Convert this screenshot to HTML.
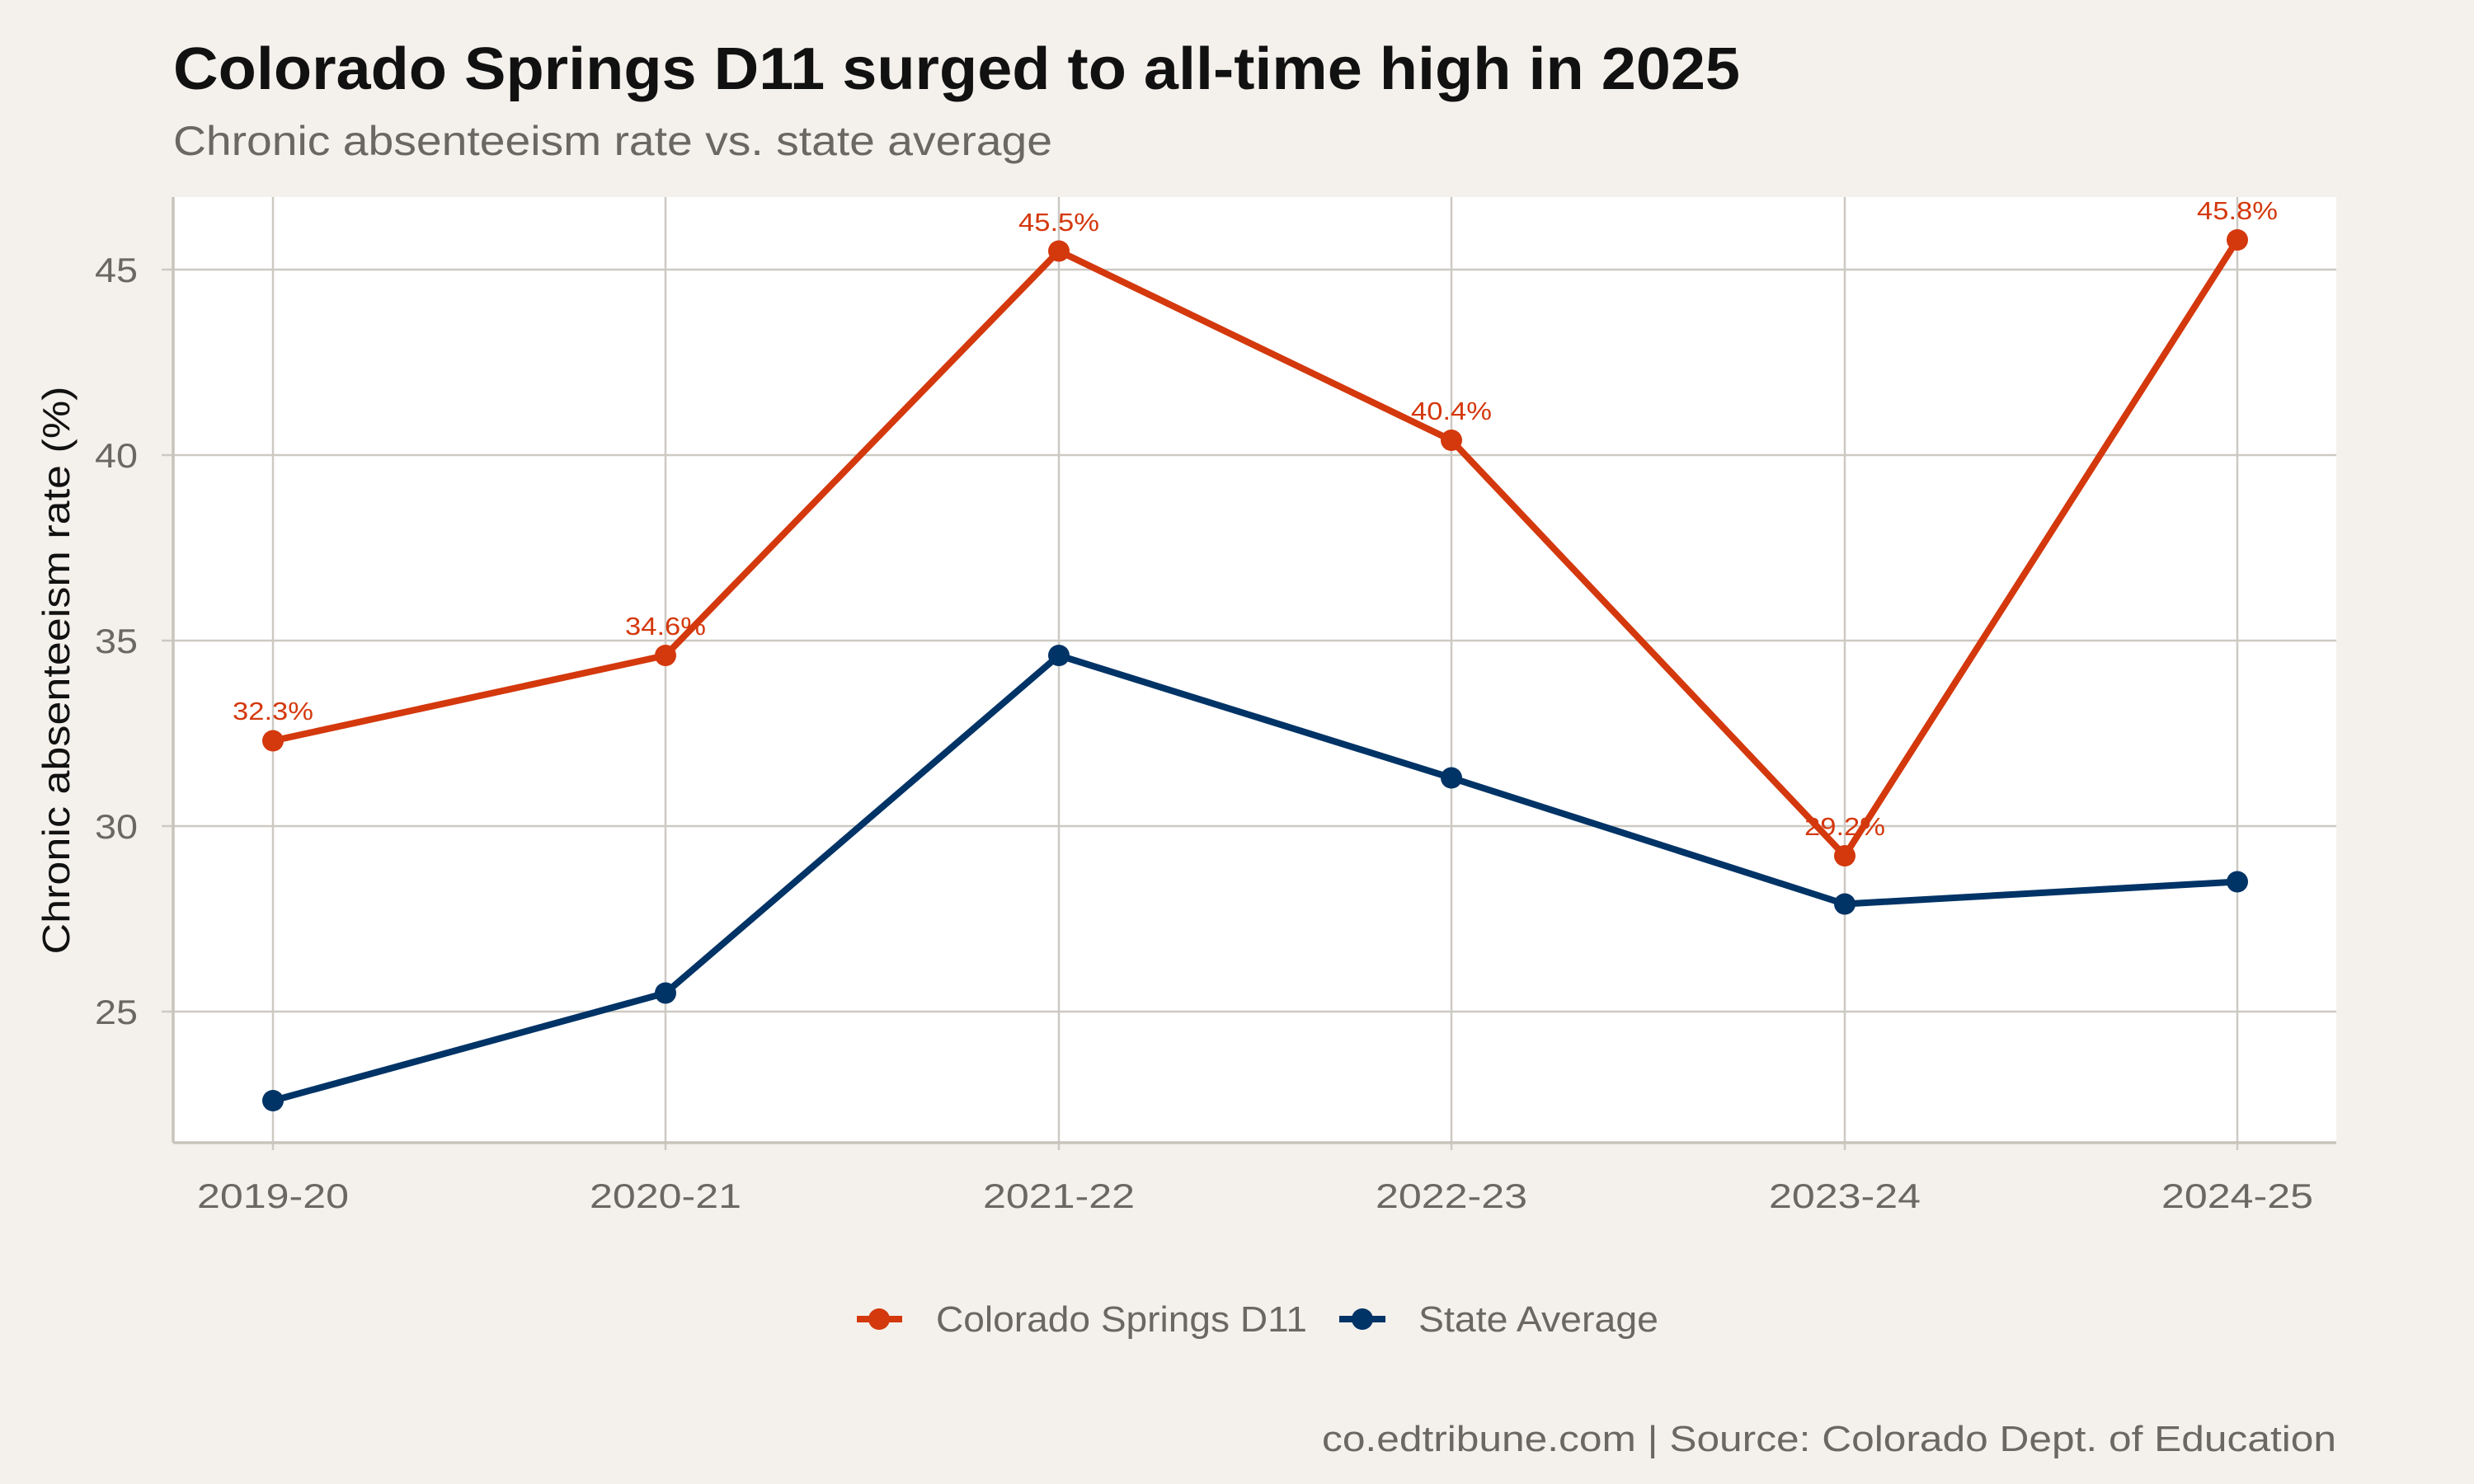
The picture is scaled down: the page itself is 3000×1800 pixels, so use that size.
<!DOCTYPE html>
<html><head><meta charset="utf-8"><style>
html,body{margin:0;padding:0;background:#f4f1ec;}
svg{display:block;font-family:"Liberation Sans",Arial,sans-serif;}
</style></head><body>
<svg width="3000" height="1800" viewBox="0 0 3000 1800" xmlns="http://www.w3.org/2000/svg">
<rect width="3000" height="1800" fill="#f4f1ec"/>
<text x="210" y="108" font-size="72" font-weight="bold" fill="#111" textLength="1900" lengthAdjust="spacingAndGlyphs">Colorado Springs D11 surged to all-time high in 2025</text>
<text x="210" y="188" font-size="50" fill="#6b6863" textLength="1066" lengthAdjust="spacingAndGlyphs">Chronic absenteeism rate vs. state average</text>
<rect x="210" y="239" width="2623" height="1146" fill="#ffffff"/>
<g stroke="#cdc9c2" stroke-width="2.5">
<line x1="210" x2="2833" y1="327" y2="327"/>
<line x1="210" x2="2833" y1="552" y2="552"/>
<line x1="210" x2="2833" y1="777" y2="777"/>
<line x1="210" x2="2833" y1="1002" y2="1002"/>
<line x1="210" x2="2833" y1="1227" y2="1227"/>
<line x1="331" x2="331" y1="239" y2="1395"/>
<line x1="807" x2="807" y1="239" y2="1395"/>
<line x1="1284" x2="1284" y1="239" y2="1395"/>
<line x1="1760" x2="1760" y1="239" y2="1395"/>
<line x1="2237" x2="2237" y1="239" y2="1395"/>
<line x1="2713" x2="2713" y1="239" y2="1395"/>
<line x1="196" x2="210" y1="327" y2="327"/><line x1="196" x2="210" y1="552" y2="552"/><line x1="196" x2="210" y1="777" y2="777"/><line x1="196" x2="210" y1="1002" y2="1002"/><line x1="196" x2="210" y1="1227" y2="1227"/>
</g>
<g stroke="#c8c4bc" stroke-width="3.5">
<line x1="210" x2="210" y1="239" y2="1386"/>
<line x1="210" x2="2833" y1="1386" y2="1386"/>
</g>
<g font-size="42" fill="#6b6863">
<text x="115" y="342" textLength="52" lengthAdjust="spacingAndGlyphs">45</text><text x="115" y="567" textLength="52" lengthAdjust="spacingAndGlyphs">40</text><text x="115" y="792" textLength="52" lengthAdjust="spacingAndGlyphs">35</text><text x="115" y="1017" textLength="52" lengthAdjust="spacingAndGlyphs">30</text><text x="115" y="1242" textLength="52" lengthAdjust="spacingAndGlyphs">25</text>
</g>
<g font-size="42" fill="#6b6863">
<text x="239" y="1465" textLength="184" lengthAdjust="spacingAndGlyphs">2019-20</text>
<text x="715" y="1465" textLength="184" lengthAdjust="spacingAndGlyphs">2020-21</text>
<text x="1192" y="1465" textLength="184" lengthAdjust="spacingAndGlyphs">2021-22</text>
<text x="1668" y="1465" textLength="184" lengthAdjust="spacingAndGlyphs">2022-23</text>
<text x="2145" y="1465" textLength="184" lengthAdjust="spacingAndGlyphs">2023-24</text>
<text x="2621" y="1465" textLength="184" lengthAdjust="spacingAndGlyphs">2024-25</text>
</g>
<text transform="translate(84,813) rotate(-90)" font-size="46" fill="#111" text-anchor="middle" textLength="689" lengthAdjust="spacingAndGlyphs">Chronic absenteeism rate (%)</text>
<polyline fill="none" stroke="#003366" stroke-width="8" stroke-linejoin="round" points="331,1335 807,1204.5 1284,795 1760,943.5 2237,1096.5 2713,1069.5"/>
<g fill="#003366"><circle cx="331" cy="1335" r="13"/><circle cx="807" cy="1204.5" r="13"/><circle cx="1284" cy="795" r="13"/><circle cx="1760" cy="943.5" r="13"/><circle cx="2237" cy="1096.5" r="13"/><circle cx="2713" cy="1069.5" r="13"/></g>
<polyline fill="none" stroke="#d4380d" stroke-width="8" stroke-linejoin="round" points="331,898.5 807,795 1284,304.5 1760,534 2237,1038 2713,291"/>
<g fill="#d4380d"><circle cx="331" cy="898.5" r="13"/><circle cx="807" cy="795" r="13"/><circle cx="1284" cy="304.5" r="13"/><circle cx="1760" cy="534" r="13"/><circle cx="2237" cy="1038" r="13"/><circle cx="2713" cy="291" r="13"/></g>
<g font-size="31" fill="#d4380d">
<text x="282" y="873" textLength="98" lengthAdjust="spacingAndGlyphs">32.3%</text>
<text x="758" y="770" textLength="98" lengthAdjust="spacingAndGlyphs">34.6%</text>
<text x="1235" y="280" textLength="98" lengthAdjust="spacingAndGlyphs">45.5%</text>
<text x="1711" y="509" textLength="98" lengthAdjust="spacingAndGlyphs">40.4%</text>
<text x="2188" y="1013" textLength="98" lengthAdjust="spacingAndGlyphs">29.2%</text>
<text x="2664" y="266" textLength="98" lengthAdjust="spacingAndGlyphs">45.8%</text>
</g>
<line x1="1039" x2="1094" y1="1600" y2="1600" stroke="#d4380d" stroke-width="8"/><circle cx="1066" cy="1600" r="13" fill="#d4380d"/>
<text x="1135" y="1615" font-size="44" fill="#6b6863" textLength="450" lengthAdjust="spacingAndGlyphs">Colorado Springs D11</text>
<line x1="1624" x2="1680" y1="1600" y2="1600" stroke="#003366" stroke-width="8"/><circle cx="1652" cy="1600" r="13" fill="#003366"/>
<text x="1720" y="1615" font-size="44" fill="#6b6863" textLength="291" lengthAdjust="spacingAndGlyphs">State Average</text>
<text x="1603" y="1760" font-size="44" fill="#6b6863" textLength="1230" lengthAdjust="spacingAndGlyphs">co.edtribune.com | Source: Colorado Dept. of Education</text>
</svg>
</body></html>
